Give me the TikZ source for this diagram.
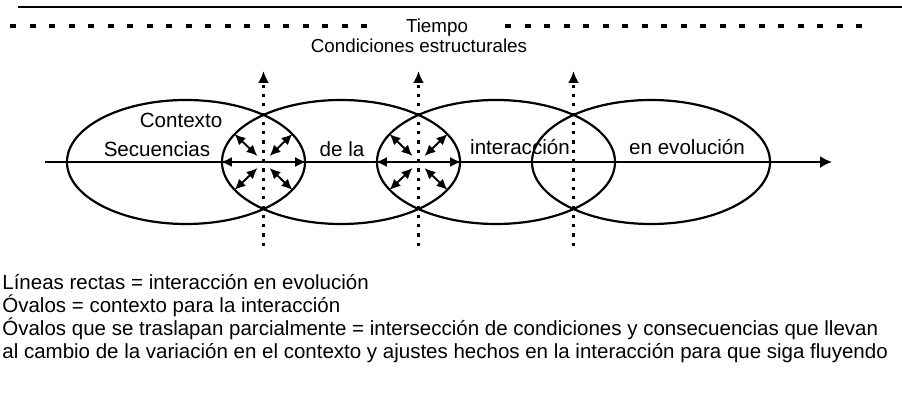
\documentclass[tikz,border=0pt]{standalone}
\usepackage{fontspec}
\setmainfont{Liberation Sans}
\usetikzlibrary{positioning,calc,shapes.geometric,arrows.meta}
\tikzset{arrow/.style={line width=0.9pt,-{Latex[length=6pt,width=6pt]}}}

\begin{document}
\begin{tikzpicture}[x=0.5pt,y=0.5pt,
oval/.style={ellipse, draw, line width=1.1pt, minimum width=119pt, minimum height=62pt, inner sep=0pt},
ovaltext/.style={font=\fontsize{10.3}{12}\selectfont, inner sep=0pt, anchor=base},
toptext/.style={font=\fontsize{9.4}{11}\selectfont, inner sep=0pt, anchor=base},
timeline/.style={line width=1.6pt, dash pattern=on 3pt off 6.75pt},
dotline/.style={line width=1.25pt, dash pattern=on 1.6pt off 3.05pt, -{Latex[length=6pt,width=5.5pt]}},
exchange/.style={line width=0.95pt, {Latex[length=5.5pt,width=5pt]}-{Latex[length=5.5pt,width=5pt]}},
on grid, node distance=77.5pt]
\useasboundingbox (0,0) rectangle (902,395);

%Header
\draw[line width=0.65pt] (18,388) -- (902,388);
\draw[timeline] (10,369) -- (372,369);
\draw[timeline] (505,369) -- (866,369);
\node[toptext] (tiempo) at (437,362) {Tiempo};
\node[toptext] (cond) at (419,342) {Condiciones estructurales};

%Ovals
\node[oval] (ov1) at (186,233) {};
\node[oval] (ov2) [right=of ov1] {};
\node[oval] (ov3) [right=of ov2] {};
\node[oval] (ov4) [right=of ov3] {};

\coordinate (x1) at ($(ov1)!0.5!(ov2)$);
\coordinate (x2) at ($(ov2)!0.5!(ov3)$);
\coordinate (x3) at ($(ov3)!0.5!(ov4)$);
\coordinate (low) at (0,149);
\coordinate (high) at (0,324);
\coordinate (start) at (45,233);
\coordinate (end) at (832,233);

%Texts
\node[ovaltext] (ctx) at (181,267) {Contexto};
\node[ovaltext] (sec) at (157,238) {Secuencias};
\node[ovaltext] (dela) at (342,238) {de la};
\node[ovaltext] (inter) at (520,240) {interacción};
\node[ovaltext] (evol) at (687,240) {en evolución};

%Lines
\draw[arrow] (start) -- (end);
\foreach \c in {x1,x2,x3}
  \draw[dotline] (\c |- low) -- (\c |- high);

\draw[exchange] (ov2.west) -- (ov1.east);
\draw[exchange] (ov3.west) -- (ov2.east);
\foreach \c in {x1,x2}
  \foreach \sx/\sy in {1/1,1/-1,-1/1,-1/-1}
    \draw[exchange] ($(\c)+(6*\sx,6*\sy)$) -- ($(\c)+(29*\sx,28*\sy)$);

%Legend
\node[anchor=base west, align=left, inner sep=0pt, font=\fontsize{10.25}{11.65}\selectfont] (legend) at (2,36)
  {Líneas rectas = interacción en evolución\\
   Óvalos = contexto para la interacción\\
   Óvalos que se traslapan parcialmente = intersección de condiciones y consecuencias que llevan\\
   al cambio de la variación en el contexto y ajustes hechos en la interacción para que siga fluyendo};
\end{tikzpicture}
\end{document}
